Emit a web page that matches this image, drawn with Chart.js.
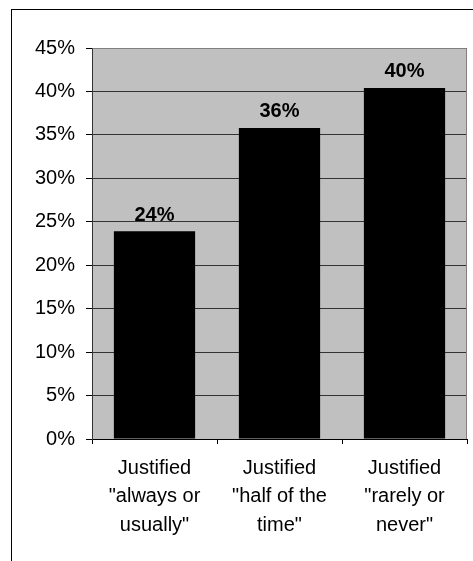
<!DOCTYPE html>
<html>
<head>
<meta charset="utf-8">
<script src="https://cdn.jsdelivr.net/npm/chart.js@4/dist/chart.umd.min.js"></script>
<style>
  html, body { margin: 0; padding: 0; background: #ffffff; }
  #wrap { width: 473px; height: 561px; position: relative; }
</style>
</head>
<body>
<div id="wrap"><canvas id="c" width="473" height="561"></canvas></div>
<script>
// ---- data ----
const categories = [
  ['Justified', '"always or', 'usually"'],
  ['Justified', '"half of the', 'time"'],
  ['Justified', '"rarely or', 'never"']
];
const values = [23.9, 35.8, 40.4];
const yMin = 0;
const yMax = 45;
const yStep = 5;

const FONT = '"Liberation Sans", Arial, Helvetica, sans-serif';

const plotBg = {
  id: 'plotBg',
  beforeDraw(chart) {
    const { ctx, chartArea: a } = chart;
    ctx.save();
    ctx.fillStyle = '#c0c0c0';
    ctx.fillRect(a.left, a.top, a.right - a.left, a.bottom - a.top);
    ctx.restore();
  },
  afterDatasetsDraw(chart) {
    const { ctx, chartArea: a } = chart;
    ctx.save();
    // plot border (top/right gray)
    ctx.strokeStyle = '#808080';
    ctx.lineWidth = 1;
    ctx.beginPath();
    ctx.moveTo(Math.round(a.left) + 0.5, Math.round(a.top) + 0.5);
    ctx.lineTo(Math.round(a.right) - 0.5, Math.round(a.top) + 0.5);
    ctx.lineTo(Math.round(a.right) - 0.5, Math.round(a.bottom));
    ctx.stroke();
    // data labels
    const meta = chart.getDatasetMeta(0);
    ctx.fillStyle = '#000';
    ctx.font = 'bold 20px ' + FONT;
    ctx.textAlign = 'center';
    ctx.textBaseline = 'bottom';
    meta.data.forEach((bar, i) => {
      const v = chart.data.datasets[0].data[i];
      ctx.fillText(Math.round(v) + '%', bar.x, bar.y - 6);
    });
    ctx.restore();
  },
  afterDraw(chart) {
    const { ctx } = chart;
    ctx.save();
    ctx.strokeStyle = '#000';
    ctx.lineWidth = 1;
    ctx.strokeRect(11.5, 9.5, 600, 700);
    ctx.restore();
  }
};

new Chart(document.getElementById('c'), {
  type: 'bar',
  data: {
    labels: categories,
    datasets: [{
      data: values,
      backgroundColor: '#000000',
      borderWidth: 0,
      categoryPercentage: 0.65,
      barPercentage: 1.0
    }]
  },
  options: {
    responsive: false,
    animation: false,
    devicePixelRatio: 1,
    layout: { padding: { left: 0, top: 48, right: 6, bottom: 0 } },
    plugins: {
      legend: { display: false },
      tooltip: { enabled: false },
      title: { display: false }
    },
    scales: {
      x: {
        grid: {
          offset: true,
          drawOnChartArea: false,
          drawTicks: true,
          tickLength: 5,
          color: '#000'
        },
        border: { display: true, color: '#000', width: 1 },
        ticks: {
          color: '#000',
          padding: 10,
          maxRotation: 0,
          autoSkip: false,
          font: { family: FONT, size: 20, lineHeight: 1.42 }
        },
        afterFit(scale) { scale.height = 122; }
      },
      y: {
        min: yMin,
        max: yMax,
        grid: {
          color: '#333333',
          lineWidth: 1,
          drawTicks: true,
          tickLength: 6,
          tickColor: '#000'
        },
        border: { display: true, color: '#333333', width: 1 },
        ticks: {
          stepSize: yStep,
          color: '#000',
          padding: 11,
          font: { family: FONT, size: 20 },
          callback: (v) => v + '%'
        },
        afterFit(scale) { scale.width = 92; }
      }
    }
  },
  plugins: [plotBg]
});
</script>
</body>
</html>
